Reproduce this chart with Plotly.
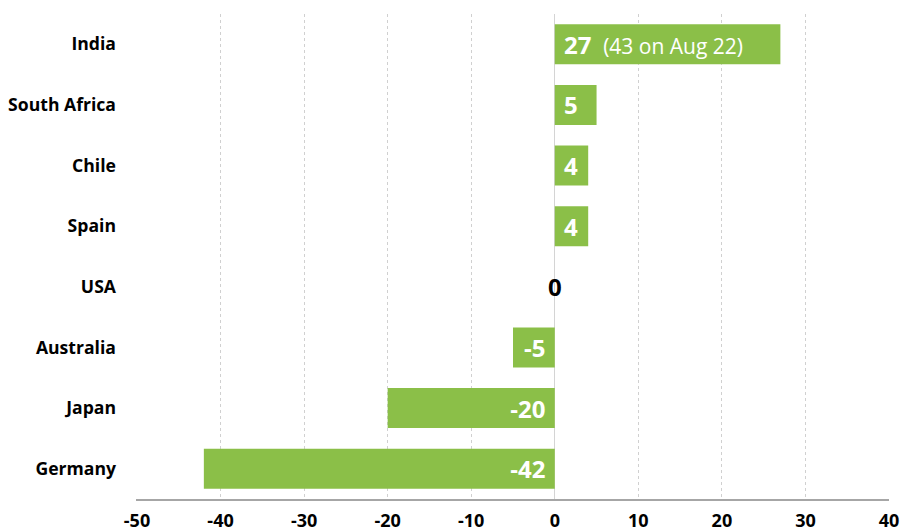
import plotly.graph_objects as go

countries = ["India", "South Africa", "Chile", "Spain", "USA", "Australia", "Japan", "Germany"]
values = [27, 5, 4, 4, 0, -5, -20, -42]
labels = ["&nbsp;<b>27</b> <span style='font-size:21px'> (43 on Aug 22)</span>",
          "&nbsp;<b>5</b>", "&nbsp;<b>4</b>", "&nbsp;<b>4</b>", "",
          "<b>-5</b>&nbsp;", "<b>-20</b>&nbsp;", "<b>-42</b>&nbsp;"]
tick_vals = [-50, -40, -30, -20, -10, 0, 10, 20, 30, 40]

GREEN = "#8BBF48"

fig = go.Figure()
fig.add_trace(go.Bar(
    y=countries, x=values, orientation="h",
    marker=dict(color=GREEN, line=dict(width=0)),
    width=0.66,
    text=labels, textposition="inside", insidetextanchor="start",
    constraintext="none",
    textfont=dict(family="Open Sans", size=24, color="white"),
    cliponaxis=False,
    hoverinfo="skip",
))
fig.add_annotation(x=0, y="USA", text="<b>0</b>", showarrow=False,
                   font=dict(family="Open Sans", size=24, color="black"))

fig.update_layout(
    width=900, height=531,
    margin=dict(l=136, r=11, t=14, b=32),
    plot_bgcolor="white", paper_bgcolor="white",
    showlegend=False,
)
fig.update_xaxes(
    range=[-50.12, 40], tickvals=tick_vals, ticktext=[str(v) for v in tick_vals],
    showgrid=True, gridcolor="#d0d0d0", griddash="dot", gridwidth=1,
    zeroline=True, zerolinecolor="#d4d4d4", zerolinewidth=1,
    showline=True, linecolor="#a6a6a6", linewidth=1.5,
    tickfont=dict(family="Open Sans", size=18, color="black", weight="bold"),
    ticklabelstandoff=5,
    automargin=False,
    fixedrange=True,
)
fig.update_yaxes(
    categoryorder="array", categoryarray=countries[::-1],
    showgrid=False, showline=False, zeroline=False,
    tickfont=dict(family="Open Sans", size=17.6, color="black", weight="bold"),
    ticklabelstandoff=19,
    automargin=False,
    fixedrange=True,
)
fig.write_html(
    "out.html",
    config={"displayModeBar": False},
    post_script="document.body.style.margin='0';document.body.style.overflow='hidden';",
)
